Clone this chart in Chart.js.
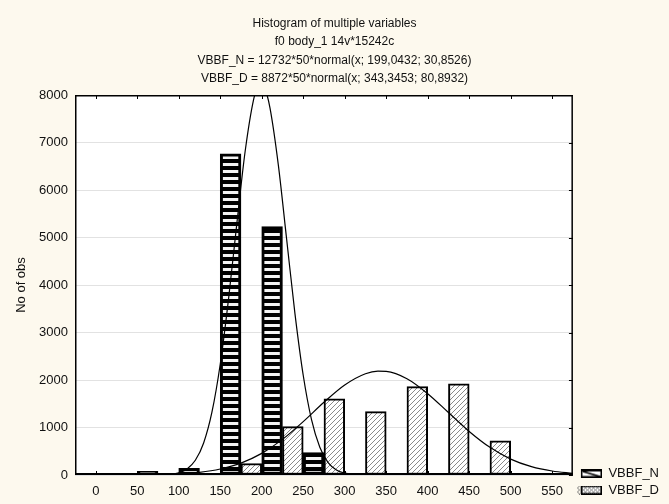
<!DOCTYPE html>
<html>
<head>
<meta charset="utf-8">
<title>Histogram of multiple variables</title>
<script src="https://cdn.jsdelivr.net/npm/chart.js@4.4.1/dist/chart.umd.min.js"></script>
<style>
  html, body { margin: 0; padding: 0; background: #fdf9ee; }
  #wrap { width: 669px; height: 504px; position: relative; }
</style>
</head>
<body>
<div id="wrap"><canvas id="hist-chart"></canvas></div>
<script>
// class left edges (width 50) and counts per series
let bins = [0, 50, 100, 150, 200, 250, 300, 350, 400, 450, 500, 550];
let countsN = [0, 75, 140, 6760, 5230, 470, 0, 0, 0, 0, 0, 0];
let countsD = [0, 15, 25, 240, 1017, 1606, 1333, 1859, 1922, 722, 20, 0];
let seriesNames = ["VBBF_N", "VBBF_D"];

// fitted normal curves
let fitNx = [-25, 50, 80, 90, 100, 110, 120, 130, 140, 150, 160, 170, 180, 190, 195, 200, 205, 210, 220, 230, 240, 250, 260, 270, 280, 290, 300, 310, 320, 350, 575];
let fitNy = [0, 0, 5, 16, 48, 128, 310, 675, 1322, 2332, 3702, 5292, 6810, 7888, 8161, 8227, 8078, 7724, 6529, 4968, 3404, 2100, 1165, 583, 262, 106, 39, 13, 4, 0, 0];
let fitDx = [-25, 0, 25, 50, 75, 100, 125, 150, 175, 200, 225, 250, 275, 300, 325, 340, 350, 375, 400, 425, 450, 475, 500, 525, 550, 575];
let fitDy = [0, 0, 1, 3, 9, 24, 57, 126, 251, 455, 750, 1124, 1531, 1895, 2132, 2186, 2180, 2026, 1712, 1315, 917, 582, 335, 176, 84, 36];

// axes
let xTicks = [0, 50, 100, 150, 200, 250, 300, 350, 400, 450, 500, 550];
let yTicks = [0, 1000, 2000, 3000, 4000, 5000, 6000, 7000, 8000];
let titleLines = [
  "Histogram of multiple variables",
  "f0 body_1 14v*15242c",
  "VBBF_N = 12732*50*normal(x; 199,0432; 30,8526)",
  "VBBF_D = 8872*50*normal(x; 343,3453; 80,8932)",
];

Chart.defaults.font.family = '"Liberation Sans", Arial, sans-serif';
Chart.defaults.color = "#111";

//fill patterns
function makeCanvas(w, h) {
  let c = document.createElement("canvas");
  c.width = w;
  c.height = h;
  return c;
}
let stripeTile = makeCanvas(8, 7);
let sctx = stripeTile.getContext("2d");
sctx.fillStyle = "#000";
sctx.fillRect(0, 0, 8, 7);
sctx.fillStyle = "#f4f4f4";
sctx.fillRect(0, 2, 8, 3);

let hatchTile = makeCanvas(5, 5);
let hctx = hatchTile.getContext("2d");
hctx.fillStyle = "#fff";
hctx.fillRect(0, 0, 5, 5);
hctx.strokeStyle = "#8a8a8a";
hctx.lineWidth = 1;
hctx.beginPath();
hctx.moveTo(0, 5); hctx.lineTo(5, 0);
hctx.moveTo(-1, 1); hctx.lineTo(1, -1);
hctx.moveTo(4, 6); hctx.lineTo(6, 4);
hctx.stroke();

let canvas = document.getElementById("hist-chart");
let ctx = canvas.getContext("2d");
let stripePattern = ctx.createPattern(stripeTile, "repeat");
let hatchPattern = ctx.createPattern(hatchTile, "repeat");

// legend icons (4px transparent margin on the left)
let iconN = makeCanvas(25, 9);
let ictx = iconN.getContext("2d");
ictx.fillStyle = "#fff";
ictx.fillRect(4, 0, 21, 9);
ictx.fillStyle = "#000";
ictx.fillRect(4, 0, 21, 3);
ictx.strokeStyle = "#000";
ictx.lineWidth = 1.5;
ictx.strokeRect(4.75, 0.75, 19.5, 7.5);
ictx.beginPath();
ictx.moveTo(6, 3); ictx.lineTo(23, 8);
ictx.stroke();

let iconD = makeCanvas(25, 9);
let dctx = iconD.getContext("2d");
dctx.fillStyle = "#fff";
dctx.fillRect(4, 0, 21, 9);
dctx.strokeStyle = "#777";
dctx.lineWidth = 1;
dctx.beginPath();
for (let k = -10; k < 30; k += 4) {
  dctx.moveTo(4 + k, 9); dctx.lineTo(4 + k + 9, 0);
  dctx.moveTo(4 + k, 0); dctx.lineTo(4 + k + 9, 9);
}
dctx.stroke();
dctx.strokeStyle = "#000";
dctx.lineWidth = 1.5;
dctx.strokeRect(4.75, 0.75, 19.5, 7.5);
let legendIcons = [iconN, iconD];

// white plot area, frame and inner tick marks
let framePlugin = {
  id: "frame",
  beforeDraw(chart) {
    let a = chart.chartArea;
    chart.ctx.save();
    chart.ctx.fillStyle = "#fff";
    chart.ctx.fillRect(a.left, a.top, a.right - a.left, a.bottom - a.top);
    chart.ctx.restore();
  },
  afterDatasetsDraw(chart) {
    let c = chart.ctx;
    let a = chart.chartArea;
    let sx = chart.scales.x;
    let sy = chart.scales.y;
    c.save();
    c.strokeStyle = "#000";
    c.lineWidth = 1.5;
    c.strokeRect(a.left + 0.75, a.top + 0.75, a.right - a.left - 1.5, a.bottom - a.top - 1.5);
    c.lineWidth = 2;
    c.beginPath();
    c.moveTo(a.left, a.bottom - 1);
    c.lineTo(a.right, a.bottom - 1);
    c.stroke();
    c.lineWidth = 1;
    c.beginPath();
    xTicks.forEach(function (v) {
      let px = Math.round(sx.getPixelForValue(v)) + 0.5;
      c.moveTo(px, a.top); c.lineTo(px, a.top + 4);
      c.moveTo(px, a.bottom); c.lineTo(px, a.bottom - 4);
    });
    yTicks.forEach(function (v) {
      let py = Math.round(sy.getPixelForValue(v)) + 0.5;
      c.moveTo(a.right, py); c.lineTo(a.right - 4, py);
    });
    c.stroke();
    c.restore();
  },
};

let barN = bins.map((b, i) => ({ x: b + 12.5, y: countsN[i] }));
let barD = bins.map((b, i) => ({ x: b + 37.5, y: countsD[i] }));
let curveN = fitNx.map((x, i) => ({ x: x, y: fitNy[i] }));
let curveD = fitDx.map((x, i) => ({ x: x, y: fitDy[i] }));

let chart = new Chart(ctx, {
  type: "bar",
  data: {
    datasets: [
      {
        label: seriesNames[0],
        data: barN,
        backgroundColor: stripePattern,
        borderColor: "#000",
        borderWidth: 3,
        borderSkipped: false,
        grouped: false,
        barPercentage: 1,
        categoryPercentage: 1,
        order: 2,
      },
      {
        label: seriesNames[1],
        data: barD,
        backgroundColor: hatchPattern,
        borderColor: "#000",
        borderWidth: 2,
        borderSkipped: false,
        grouped: false,
        barPercentage: 1,
        categoryPercentage: 1,
        order: 2,
      },
      {
        type: "line",
        label: seriesNames[0] + " fit",
        data: curveN,
        borderColor: "#000",
        borderWidth: 1.2,
        pointRadius: 0,
        cubicInterpolationMode: "monotone",
        order: 1,
      },
      {
        type: "line",
        label: seriesNames[1] + " fit",
        data: curveD,
        borderColor: "#000",
        borderWidth: 1.2,
        pointRadius: 0,
        cubicInterpolationMode: "monotone",
        order: 1,
      },
    ],
  },
  options: {
    responsive: true,
    maintainAspectRatio: false,
    animation: false,
    layout: { padding: { right: 0, bottom: 3.5 } },
    plugins: {
      title: {
        display: true,
        text: titleLines,
        color: "#111",
        font: { size: 12, weight: "normal", lineHeight: 1.55 },
        padding: { top: 14, bottom: 6.6 },
      },
      legend: {
        position: "right",
        align: "end",
        labels: {
          usePointStyle: true,
          pointStyleWidth: 25,
          padding: 4,
          color: "#111",
          font: { size: 13 },
          generateLabels: function () {
            return seriesNames.map((name, i) => ({
              text: name,
              pointStyle: legendIcons[i],
              datasetIndex: i,
              hidden: false,
              lineWidth: 0,
              fontColor: "#111",
            }));
          },
        },
        onClick: null,
      },
      tooltip: { enabled: false },
    },
    scales: {
      x: {
        type: "linear",
        min: -25,
        max: 575,
        offset: false,
        afterBuildTicks: (s) => { s.ticks = xTicks.map((v) => ({ value: v })); },
        afterFit: (s) => { s.height = 25.5; },
        ticks: { padding: 9, font: { size: 13 }, color: "#111", maxRotation: 0 },
        grid: { display: false, drawTicks: false },
        border: { display: false },
      },
      y: {
        min: 0,
        max: 8000,
        afterBuildTicks: (s) => { s.ticks = yTicks.map((v) => ({ value: v })); },
        afterFit: (s) => { s.width = 75; },
        ticks: { padding: 7, font: { size: 13 }, color: "#111", callback: (v) => String(v) },
        grid: { color: "#e2e2e2", drawTicks: false },
        border: { display: false },
        title: {
          display: true,
          text: "No of obs",
          font: { size: 13 },
          color: "#111",
          padding: { top: 14, bottom: 0 },
        },
      },
    },
  },
  plugins: [framePlugin],
});
</script>
</body>
</html>
